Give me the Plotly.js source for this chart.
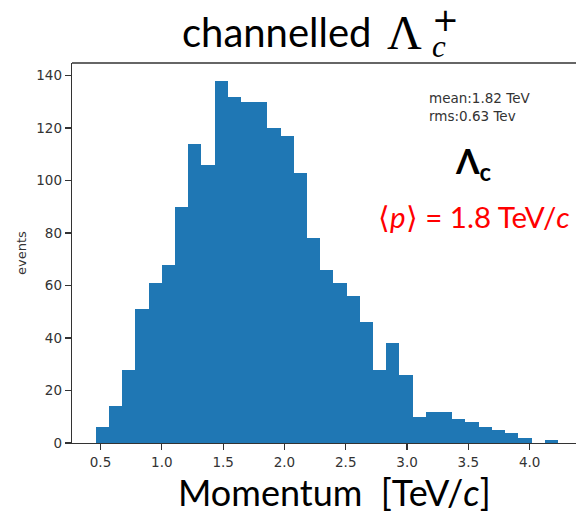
<!DOCTYPE html>
<html>
<head>
<meta charset="utf-8">
<script src="https://cdn.plot.ly/plotly-3.0.1.min.js"></script>
<style>html,body{margin:0;padding:0;background:#fff;}</style>
</head>
<body>
<div id="chart" style="width:576px;height:520px;"></div>
<script>
// Histogram data
const binLow = 0.461;      // left edge of first bin [TeV/c]
const binSize = 0.1077;    // bin width [TeV/c]
const counts = [6, 14, 28, 51, 61, 68, 90, 114, 106, 138, 132, 130, 130, 120, 117, 103, 78, 66, 61, 56, 46, 28, 38, 26, 10, 12, 12, 9, 8, 6, 5, 4, 2, 0, 1];
const xTicks = [0.5, 1.0, 1.5, 2.0, 2.5, 3.0, 3.5, 4.0];
const xTickLabels = ["0.5", "1.0", "1.5", "2.0", "2.5", "3.0", "3.5", "4.0"];
const yTicks = [0, 20, 40, 60, 80, 100, 120, 140];
const statLines = ["mean:1.82 TeV", "rms:0.63 Tev"];

const binLeft = counts.map((_, i) => binLow + i * binSize);

// layout geometry helpers (pixel -> paper)
const L = 72, T = 63, W = 504, H = 380;
const px = v => (v - L) / W;
const py = v => (T + H - v) / H;

const trace = {
  type: 'bar',
  x: binLeft,
  y: counts,
  width: binSize,
  offset: 0,
  marker: {color: '#1f77b4', line: {width: 0}},
  hoverinfo: 'x+y'
};

const tickFont = {family: 'DejaVu Sans', size: 13.5, color: '#333333'};

const layout = {
  width: 576, height: 520,
  margin: {l: L, r: 576 - L - W, t: T, b: 520 - T - H, pad: 0},
  paper_bgcolor: '#ffffff',
  plot_bgcolor: '#ffffff',
  showlegend: false,
  bargap: 0,
  xaxis: {
    range: [0.2675, 4.378],
    tickvals: xTicks, ticktext: xTickLabels,
    ticks: 'outside', ticklen: 6, tickwidth: 1.2, tickcolor: '#333333',
    showline: true, linecolor: '#333333', linewidth: 1.3,
    showgrid: false, zeroline: false,
    tickfont: tickFont
  },
  yaxis: {
    range: [0, 144.8],
    tickvals: yTicks,
    ticks: 'outside', ticklen: 6, tickwidth: 1.2, tickcolor: '#333333',
    showline: true, linecolor: '#333333', linewidth: 1.3,
    showgrid: false, zeroline: false,
    tickfont: tickFont,
    title: {text: 'events', font: {family: 'DejaVu Sans', size: 13, color: '#333333'}, standoff: 6}
  },
  shapes: [
    {type: 'line', xref: 'paper', yref: 'paper', x0: 0, x1: 1, y0: 1, y1: 1,
     line: {color: '#333333', width: 1.3}}
  ],
  annotations: [
    // title pieces
    {xref: 'paper', yref: 'paper', x: px(180), y: py(32), xanchor: 'left', yanchor: 'middle',
     text: 'channelled', showarrow: false, font: {family: 'Lato', size: 40, color: '#000'}},
    {xref: 'paper', yref: 'paper', x: px(386), y: py(33), xanchor: 'left', yanchor: 'middle',
     borderpad: 0,
     text: 'Λ', showarrow: false, font: {family: 'Liberation Serif', size: 48, color: '#000'}},
    {xref: 'paper', yref: 'paper', x: px(431), y: py(0), xanchor: 'left', yanchor: 'top',
     align: 'left', borderpad: 0,
     text: '<span style="font-family:DejaVu Sans;font-size:32px">+</span><br><span style="font-size:31px"><i>c</i></span>',
     showarrow: false, font: {family: 'Liberation Serif', size: 20, color: '#000'}},
    // x axis title
    {xref: 'paper', yref: 'paper', x: px(334), y: py(492), xanchor: 'center', yanchor: 'middle',
     text: 'Momentum&nbsp; [TeV/<i>c</i>]', showarrow: false, font: {family: 'Lato', size: 36, color: '#000'}},
    // stats box
    {xref: 'paper', yref: 'paper', x: px(427), y: py(97.5), xanchor: 'left', yanchor: 'middle',
     text: statLines[0], showarrow: false, font: {family: 'DejaVu Sans', size: 13.5, color: '#333333'}},
    {xref: 'paper', yref: 'paper', x: px(427), y: py(116), xanchor: 'left', yanchor: 'middle',
     text: statLines[1], showarrow: false, font: {family: 'DejaVu Sans', size: 13.5, color: '#333333'}},
    // Lambda_c label
    {xref: 'paper', yref: 'paper', x: px(473), y: py(163), xanchor: 'center', yanchor: 'middle',
     text: '<b>Λ<sub>c</sub></b>', showarrow: false, font: {family: 'Lato', size: 34, color: '#000'}},
    // mean momentum in red
    {xref: 'paper', yref: 'paper', x: px(474), y: py(216), xanchor: 'center', yanchor: 'middle',
     text: '⟨<i>p</i>⟩ = 1.8 TeV/<i>c</i>', showarrow: false, font: {family: 'Lato', size: 29.5, color: '#ff0000'}}
  ]
};

Plotly.newPlot('chart', [trace], layout, {displayModeBar: false, staticPlot: true});
</script>
</body>
</html>
